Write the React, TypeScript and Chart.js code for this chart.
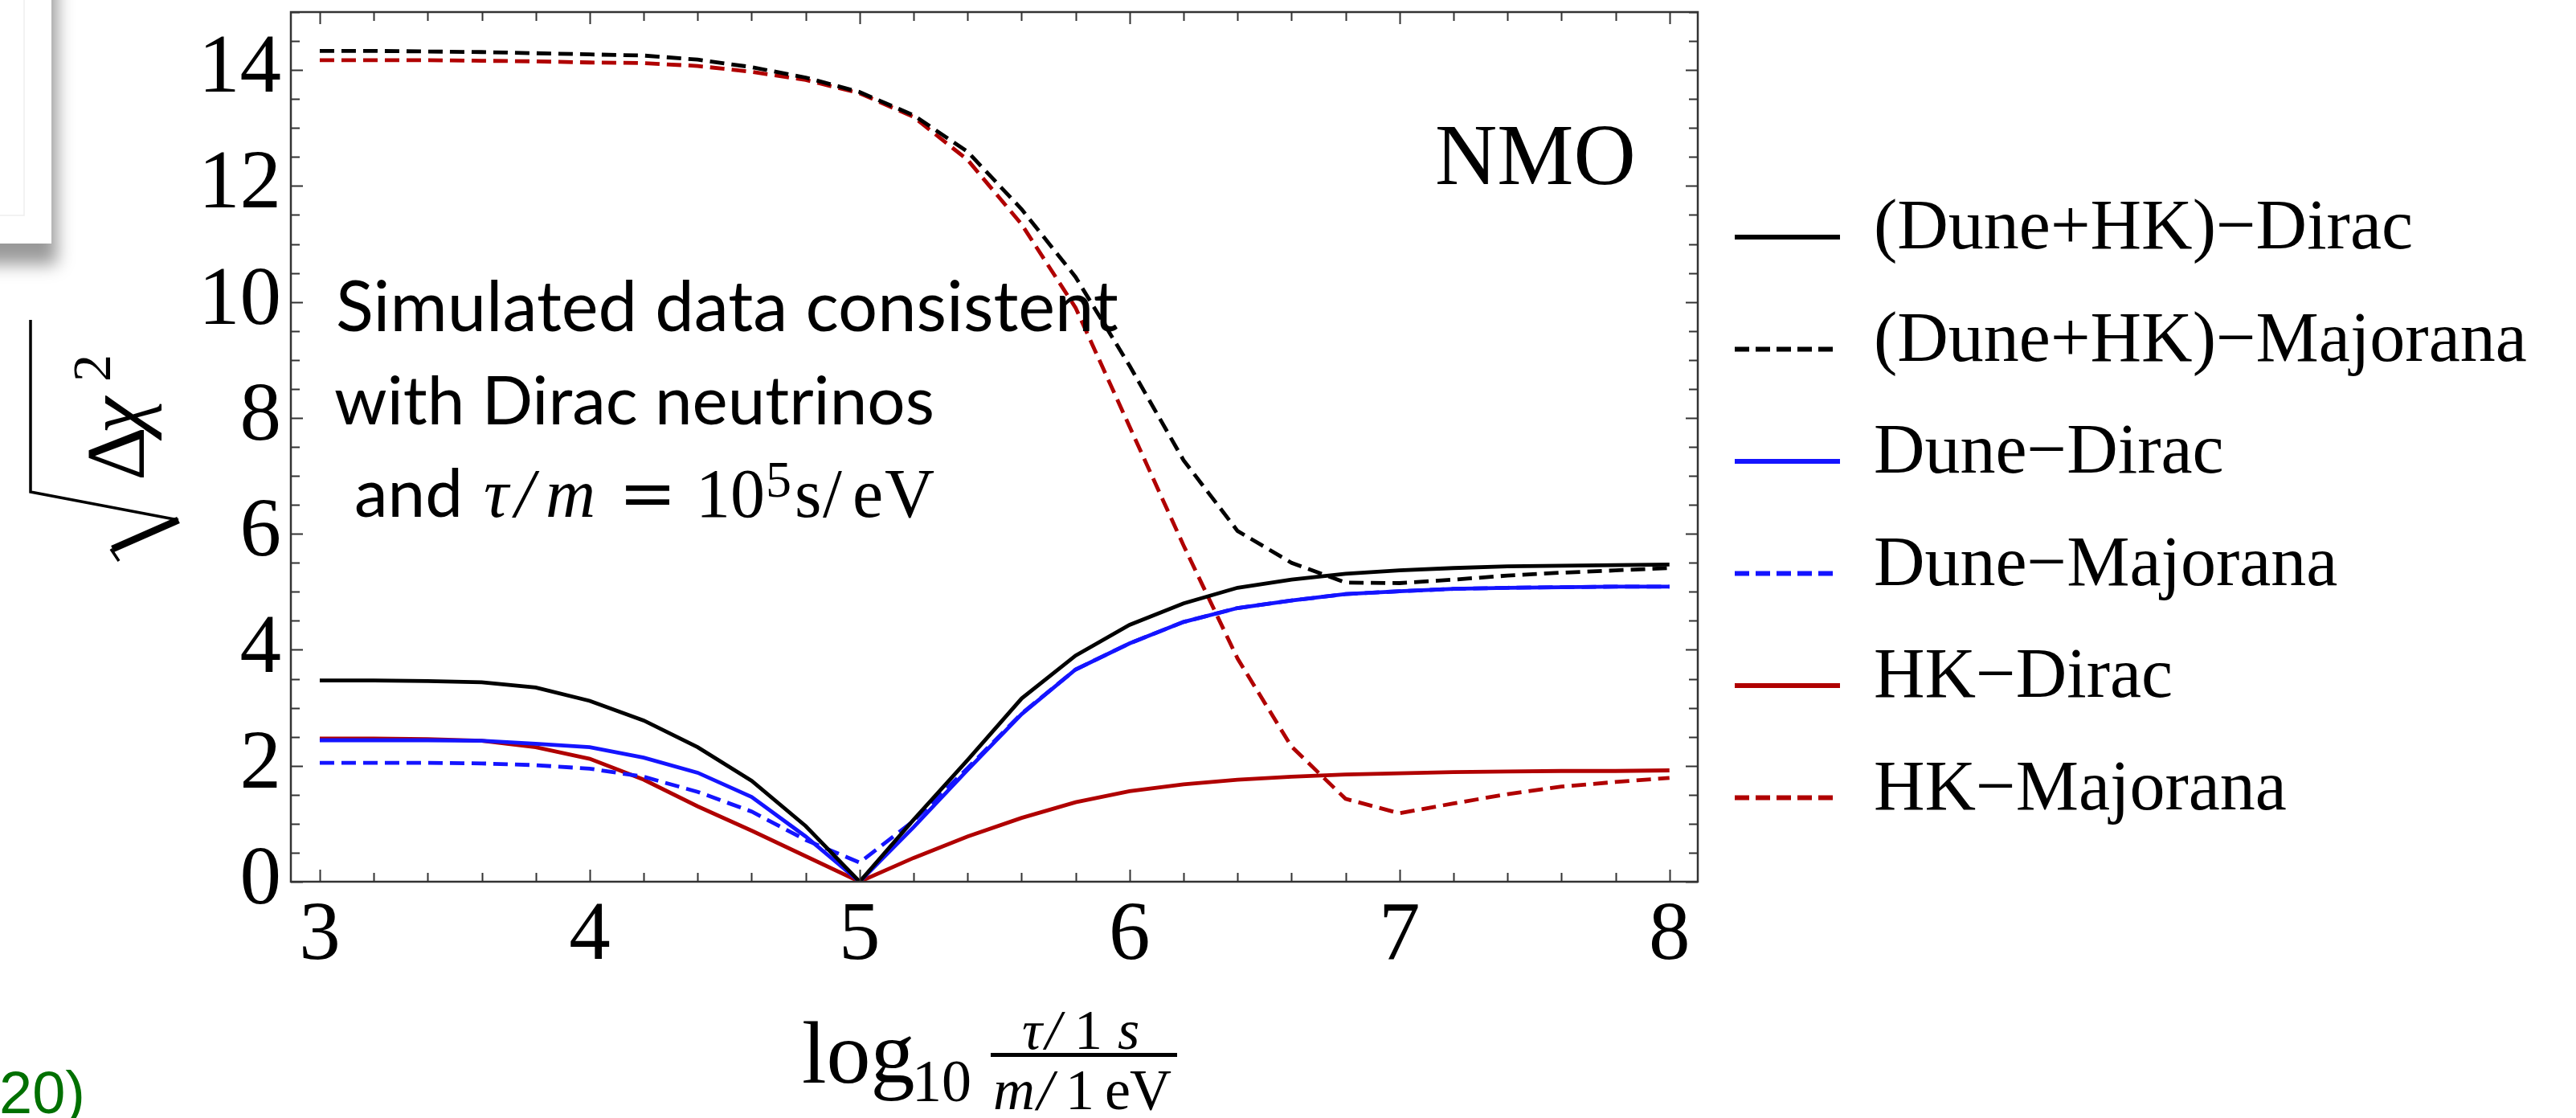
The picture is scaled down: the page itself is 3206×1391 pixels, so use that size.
import React, { useEffect, useRef } from 'react';
import { Chart, registerables } from 'chart.js';

Chart.register(...registerables);

const W = 3206;
const H = 1391;

// ---------- data ----------
const xValues = [3.0, 3.2, 3.4, 3.6, 3.8, 4.0, 4.2, 4.4, 4.6, 4.8, 5.0, 5.2, 5.4, 5.6, 5.8, 6.0, 6.2, 6.4, 6.6, 6.8, 7.0, 7.2, 7.4, 7.6, 7.8, 8.0];

const duneHKDirac = [3.47, 3.47, 3.46, 3.44, 3.35, 3.12, 2.78, 2.32, 1.74, 0.96, 0.0, 1.07, 2.10, 3.16, 3.90, 4.43, 4.80, 5.07, 5.21, 5.31, 5.37, 5.41, 5.44, 5.45, 5.46, 5.47];
const duneHKMajorana = [14.33, 14.33, 14.32, 14.31, 14.29, 14.27, 14.25, 14.18, 14.05, 13.87, 13.62, 13.22, 12.59, 11.60, 10.43, 8.90, 7.27, 6.05, 5.50, 5.16, 5.15, 5.21, 5.28, 5.33, 5.37, 5.41];
const duneDirac = [2.44, 2.44, 2.44, 2.43, 2.38, 2.32, 2.14, 1.88, 1.46, 0.78, 0.0, 0.94, 1.93, 2.89, 3.66, 4.11, 4.48, 4.72, 4.85, 4.96, 5.01, 5.05, 5.07, 5.08, 5.09, 5.09];
const duneMajorana = [2.05, 2.05, 2.05, 2.04, 2.01, 1.95, 1.81, 1.55, 1.21, 0.72, 0.33, 1.05, 1.96, 2.90, 3.66, 4.11, 4.48, 4.72, 4.85, 4.96, 5.01, 5.05, 5.07, 5.08, 5.09, 5.09];
const hkDirac = [2.47, 2.47, 2.46, 2.43, 2.32, 2.12, 1.76, 1.30, 0.88, 0.44, 0.0, 0.41, 0.78, 1.10, 1.37, 1.56, 1.68, 1.76, 1.81, 1.85, 1.87, 1.89, 1.90, 1.91, 1.91, 1.92];
const hkMajorana = [14.17, 14.17, 14.17, 14.16, 14.15, 14.13, 14.12, 14.07, 13.97, 13.83, 13.60, 13.19, 12.45, 11.34, 9.90, 7.85, 5.80, 3.85, 2.33, 1.43, 1.18, 1.35, 1.51, 1.64, 1.72, 1.79];

const seriesLabels = ['(Dune+HK)\u2212Dirac', '(Dune+HK)\u2212Majorana', 'Dune\u2212Dirac', 'Dune\u2212Majorana', 'HK\u2212Dirac', 'HK\u2212Majorana'];

const xTickValues = [3.0, 3.2, 3.4, 3.6, 3.8, 4.0, 4.2, 4.4, 4.6, 4.8, 5.0, 5.2, 5.4, 5.6, 5.8, 6.0, 6.2, 6.4, 6.6, 6.8, 7.0, 7.2, 7.4, 7.6, 7.8, 8.0];
const xTickLabels = [3, 4, 5, 6, 7, 8];
const yTickValues = [0, 0.5, 1, 1.5, 2, 2.5, 3, 3.5, 4, 4.5, 5, 5.5, 6, 6.5, 7, 7.5, 8, 8.5, 9, 9.5, 10, 10.5, 11, 11.5, 12, 12.5, 13, 13.5, 14, 14.5, 15];
const yTickLabels = [0, 2, 4, 6, 8, 10, 12, 14];

// ---------- styles ----------
const BLACK = '#000000';
const BLUE = '#1414ff';
const RED = '#b00000';
const DASH = [18, 9];
const SERIF = '"Liberation Serif"';
const SANS = '"Lato"';

const isIn = (arr: number[], v: number) => arr.some((m) => Math.abs(m - v) < 1e-6);

function makeDataset(label: string, values: number[], color: string, dashed: boolean) {
  return {
    label,
    data: xValues.map((x, i) => ({ x, y: values[i] })),
    borderColor: color,
    backgroundColor: color,
    borderWidth: 4.8,
    borderDash: dashed ? DASH : [],
    pointRadius: 0,
    tension: 0,
    fill: false,
  };
}

function drawFrameAndTicks(chart: any) {
  const ctx = chart.ctx;
  const { left, right, top, bottom } = chart.chartArea;
  const xs = chart.scales.x;
  const ys = chart.scales.y;
  ctx.save();
  ctx.strokeStyle = '#333333';
  ctx.lineWidth = 2;
  ctx.setLineDash([]);
  ctx.beginPath();
  xs.ticks.forEach((t: any) => {
    const px = Math.round(xs.getPixelForValue(t.value)) + 0.5;
    const len = isIn(xTickLabels, t.value) ? 15 : 11;
    ctx.moveTo(px, bottom);
    ctx.lineTo(px, bottom - len);
    ctx.moveTo(px, top);
    ctx.lineTo(px, top + len);
  });
  ys.ticks.forEach((t: any) => {
    const py = Math.round(ys.getPixelForValue(t.value)) + 0.5;
    const len = isIn(yTickLabels, t.value) ? 15 : 11;
    ctx.moveTo(left, py);
    ctx.lineTo(left + len, py);
    ctx.moveTo(right, py);
    ctx.lineTo(right - len, py);
  });
  ctx.stroke();
  ctx.lineWidth = 2.5;
  ctx.strokeRect(left, top, right - left, bottom - top);
  ctx.restore();
}

function fitSize(ctx: CanvasRenderingContext2D, text: string, family: string, target: number) {
  ctx.font = `100px ${family}`;
  const w = ctx.measureText(text).width;
  return (100 * target) / w;
}

function drawTexts(chart: any) {
  const ctx: CanvasRenderingContext2D = chart.ctx;
  ctx.save();
  ctx.textAlign = 'left';
  ctx.textBaseline = 'alphabetic';
  ctx.fillStyle = '#000';

  // slide artifacts: shadowed box at top-left and green text at bottom-left
  ctx.save();
  ctx.shadowColor = 'rgba(0,0,0,0.40)';
  ctx.shadowBlur = 20;
  ctx.shadowOffsetX = 7;
  ctx.shadowOffsetY = 26;
  ctx.fillStyle = '#ffffff';
  ctx.fillRect(-60, -60, 124, 363);
  ctx.restore();
  ctx.save();
  ctx.strokeStyle = '#eeeeee';
  ctx.lineWidth = 1.5;
  ctx.beginPath();
  ctx.moveTo(30, 0);
  ctx.lineTo(30, 268);
  ctx.lineTo(0, 268);
  ctx.stroke();
  ctx.restore();
  ctx.fillStyle = '#007000';
  ctx.font = '74px "Liberation Sans"';
  ctx.fillText('20)', -1, 1385);
  ctx.fillStyle = '#000';

  // NMO
  ctx.font = `107px ${SERIF}`;
  ctx.fillText('NMO', 1786, 229);

  // annotation
  const l1 = 'Simulated data consistent';
  const l2 = 'with Dirac neutrinos';
  const s1 = fitSize(ctx, l1, SANS, 974);
  const s2 = fitSize(ctx, l2, SANS, 747);
  ctx.font = `${s1}px ${SANS}`;
  ctx.fillText(l1, 418, 412);
  ctx.font = `${s2}px ${SANS}`;
  ctx.fillText(l2, 416, 528);
  ctx.fillText('and', 441, 643);
  ctx.font = `italic 86px ${SERIF}`;
  ctx.fillText('\u03C4', 602, 643);
  ctx.fillText('/', 641, 643);
  ctx.fillText('m', 679, 643);
  ctx.font = `86px "DejaVu Serif"`;
  ctx.fillText('=', 770, 643);
  ctx.font = `86px ${SERIF}`;
  ctx.fillText('10', 866, 643);
  ctx.font = `64px ${SERIF}`;
  ctx.fillText('5', 953, 618);
  ctx.font = `86px ${SERIF}`;
  ctx.fillText('s', 989, 643);
  ctx.fillText('/', 1024, 643);
  ctx.fillText('e', 1061, 643);
  ctx.fillText('V', 1101, 643);

  // x axis title
  ctx.font = `110px ${SERIF}`;
  ctx.fillText('log', 998, 1347);
  ctx.font = `74px ${SERIF}`;
  ctx.fillText('10', 1135, 1370);
  ctx.fillRect(1233, 1310, 232, 5);
  ctx.font = `italic 70px ${SERIF}`;
  ctx.fillText('\u03C4', 1272, 1305);
  ctx.fillText('/', 1301, 1305);
  ctx.font = `70px ${SERIF}`;
  ctx.fillText('1', 1337, 1305);
  ctx.font = `italic 70px ${SERIF}`;
  ctx.fillText('s', 1391, 1305);
  ctx.font = `italic 72px ${SERIF}`;
  ctx.fillText('m', 1236, 1380);
  ctx.fillText('/', 1291, 1380);
  ctx.font = `72px ${SERIF}`;
  ctx.fillText('1', 1326, 1380);
  ctx.fillText('e', 1375, 1380);
  ctx.fillText('V', 1406, 1380);

  // y axis title: sqrt(Δχ^2), rotated
  ctx.save();
  ctx.translate(179, 594);
  ctx.rotate(-Math.PI / 2);
  ctx.font = `104px ${SERIF}`;
  ctx.fillText('\u0394', -4, 0);
  ctx.font = `italic 104px ${SERIF}`;
  ctx.fillText('\u03C7', 54, 0);
  ctx.font = `68px ${SERIF}`;
  ctx.fillText('2', 119, -42);
  ctx.strokeStyle = '#000';
  ctx.lineJoin = 'miter';
  ctx.lineCap = 'butt';
  ctx.lineWidth = 3.5;
  ctx.beginPath();
  ctx.moveTo(196, -141);
  ctx.lineTo(-18, -141);
  ctx.lineTo(-53, 43);
  ctx.stroke();
  ctx.lineWidth = 9;
  ctx.beginPath();
  ctx.moveTo(-53, 43);
  ctx.lineTo(-89, -39);
  ctx.stroke();
  ctx.lineWidth = 3.5;
  ctx.beginPath();
  ctx.moveTo(-89, -41);
  ctx.lineTo(-104, -31);
  ctx.stroke();
  ctx.restore();

  // legend
  const lx0 = 2159;
  const lx1 = 2290;
  const textX = 2332;
  const y0 = 295;
  const dy = 139.5;
  chart.data.datasets.forEach((ds: any, i: number) => {
    const y = y0 + i * dy;
    const dashed = ds.borderDash && ds.borderDash.length > 0;
    ctx.strokeStyle = ds.borderColor;
    ctx.lineWidth = 6;
    ctx.setLineDash(dashed ? [18, 8] : []);
    ctx.beginPath();
    ctx.moveTo(lx0, y);
    ctx.lineTo(dashed ? 2283 : lx1, y);
    ctx.stroke();
    ctx.setLineDash([]);
    ctx.fillStyle = '#000';
    ctx.font = `88px ${SERIF}`;
    ctx.fillText(ds.label, textX, y + 14);
  });
  ctx.restore();
}

const decorPlugin = {
  id: 'decor',
  afterDatasetsDraw(chart: any) {
    drawFrameAndTicks(chart);
  },
  afterDraw(chart: any) {
    drawTexts(chart);
  },
};

export default function App() {
  const ref = useRef<HTMLCanvasElement>(null);

  useEffect(() => {
    const canvas = ref.current;
    if (!canvas) return;
    const chart = new Chart(canvas, {
      type: 'line',
      data: {
        datasets: [
          makeDataset(seriesLabels[0], duneHKDirac, BLACK, false),
          makeDataset(seriesLabels[1], duneHKMajorana, BLACK, true),
          makeDataset(seriesLabels[2], duneDirac, BLUE, false),
          makeDataset(seriesLabels[3], duneMajorana, BLUE, true),
          makeDataset(seriesLabels[4], hkDirac, RED, false),
          makeDataset(seriesLabels[5], hkMajorana, RED, true),
        ],
      },
      options: {
        responsive: false,
        devicePixelRatio: 1,
        animation: false,
        events: [],
        layout: { padding: { left: 0, top: 15, right: W - 2113, bottom: 0 } },
        plugins: {
          legend: { display: false },
          tooltip: { enabled: false },
          title: { display: false },
        },
        scales: {
          x: {
            type: 'linear',
            min: 2.893,
            max: 8.105,
            grid: { display: false, drawTicks: false },
            border: { display: false },
            afterBuildTicks: (scale: any) => {
              scale.ticks = xTickValues.map((v) => ({ value: v }));
            },
            afterFit: (scale: any) => {
              scale.height = H - 1097;
              scale.paddingLeft = 0;
              scale.paddingRight = 0;
              scale.paddingTop = 0;
              scale.paddingBottom = 0;
            },
            ticks: {
              autoSkip: false,
              maxRotation: 0,
              minRotation: 0,
              padding: 17,
              color: '#000',
              font: { family: 'Liberation Serif', size: 103, lineHeight: 1 },
              callback: (v: any) => (isIn(xTickLabels, Number(v)) ? String(Math.round(Number(v))) : ''),
            },
          },
          y: {
            type: 'linear',
            min: 0,
            max: 15,
            grid: { display: false, drawTicks: false },
            border: { display: false },
            afterBuildTicks: (scale: any) => {
              scale.ticks = yTickValues.map((v) => ({ value: v }));
            },
            afterFit: (scale: any) => {
              scale.width = 362;
              scale.paddingLeft = 0;
              scale.paddingRight = 0;
              scale.paddingTop = 0;
              scale.paddingBottom = 0;
            },
            ticks: {
              autoSkip: false,
              padding: 12,
              color: '#000',
              font: { family: 'Liberation Serif', size: 103, lineHeight: 1 },
              callback: (v: any) => (isIn(yTickLabels, Number(v)) ? String(Math.round(Number(v))) : ''),
            },
          },
        },
      } as any,
      plugins: [decorPlugin],
    });
    return () => chart.destroy();
  }, []);

  return (
    <div style={{ position: 'fixed', left: 0, top: 0, width: W, height: H, background: '#ffffff', overflow: 'hidden' }}>
      <canvas ref={ref} width={W} height={H} style={{ display: 'block', width: W, height: H }} />
    </div>
  );
}
